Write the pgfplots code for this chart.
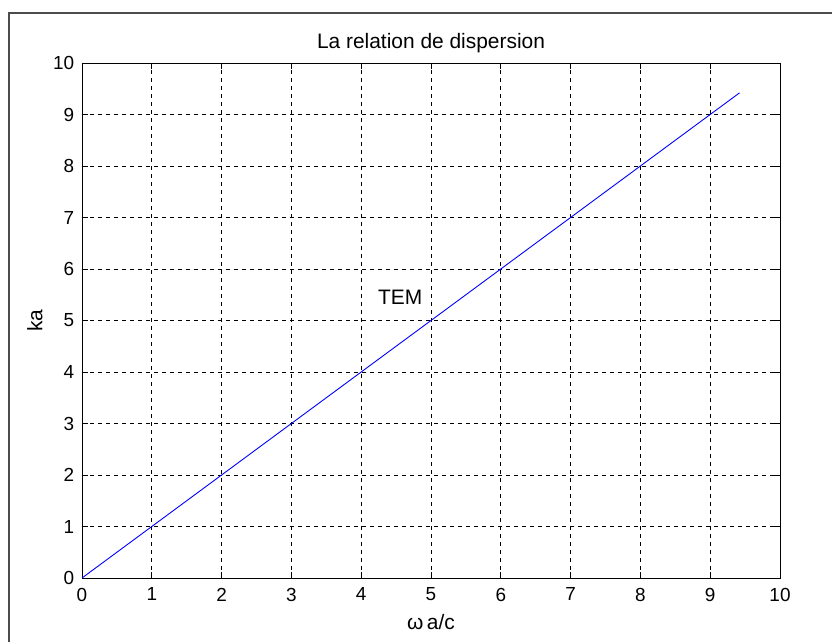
\documentclass[border=0pt]{standalone}
\usepackage{pgfplots}
\pgfplotsset{compat=1.18}
\usepackage{fontspec}
\setmainfont{Liberation Sans}
\begin{document}
\fontsize{20}{22}\selectfont
\begin{tikzpicture}[x=1bp,y=1bp]
% page area, in pixel-sized units, origin at the lower left corner of the axis box
\clip (-82,-64) rectangle (750,578);
\fill[white] (-82,-64) rectangle (750,578);
% figure frame
\draw[black!70, line width=1.6bp] (-73,-90) -- (-73,565) -- (780,565);
\begin{axis}[
  at={(0,0)}, anchor=origin,
  scale only axis, width=698bp, height=515bp,
  xmin=0, xmax=10, ymin=0, ymax=10,
  xtick={0,1,...,10}, ytick={0,1,...,10},
  tick align=inside, major tick length=6bp,
  xtick pos=both, ytick pos=both,
  grid=major,
  major grid style={black, line width=0.8bp, dash pattern=on 4bp off 4bp},
  axis line style={black, line width=0.9bp},
  tick style={black, line width=0.8bp},
  /pgf/number format/assume math mode=true,
  ticklabel style={font=\fontsize{19}{21}\selectfont},
  xticklabel style={yshift=-3bp},
  yticklabel style={xshift=-1bp},
  title={La relation de dispersion},
  title style={at={(axis description cs:0.5,1)}, anchor=center, yshift=14bp,
    font=\fontsize{21}{23}\selectfont},
  xlabel={ω\,a/c},
  xlabel style={at={(axis description cs:0.5,0)}, anchor=center, yshift=-44bp,
    font=\fontsize{21}{23}\selectfont},
  ylabel={ka},
  ylabel style={at={(axis description cs:0,0.5)}, anchor=center, yshift=47bp,
    font=\fontsize{21}{23}\selectfont},
]
\addplot[blue, line width=0.9bp] coordinates {
  (0,0) (1,1) (2,2) (3,3) (4,4) (5,5) (6,6) (7,7) (8,8) (9,9) (9.42,9.42)
};
\node[font=\fontsize{21}{23}\selectfont] at (axis cs:4.56,5.45) {TEM};
\end{axis}
\end{tikzpicture}
\end{document}
